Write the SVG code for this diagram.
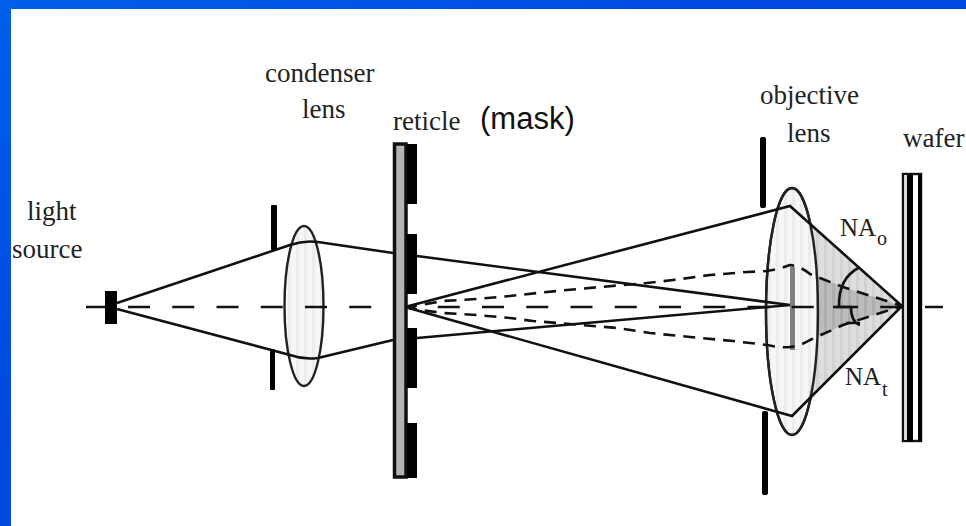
<svg xmlns="http://www.w3.org/2000/svg" width="966" height="526" viewBox="0 0 966 526">
<defs>
<style>
.t{font-family:"Liberation Serif","Times New Roman",serif;font-size:27px;fill:#222}
.n{font-family:"Liberation Serif","Times New Roman",serif;font-size:25px;fill:#222}
.s{font-family:"Liberation Serif","Times New Roman",serif;font-size:20px;fill:#222}
.m{font-family:"Liberation Sans",Arial,sans-serif;font-size:31px;fill:#111}
.ray{fill:none;stroke:#111;stroke-width:2.6}
.dash{fill:none;stroke:#111;stroke-width:2.6;stroke-dasharray:12 8}
.axis{fill:none;stroke:#111;stroke-width:2.4;stroke-dasharray:22 22.25}
.lens{fill:url(#lensfill);stroke:#222;stroke-width:2.4}
</style>
<linearGradient id="bg" x1="0" y1="0" x2="1" y2="1"><stop offset="0" stop-color="#0060ea"/><stop offset="0.4" stop-color="#0048e0"/><stop offset="1" stop-color="#0050e4"/></linearGradient>
<pattern id="lensfill" width="8" height="8" patternUnits="userSpaceOnUse"><rect width="8" height="8" fill="#f6f6f6"/><rect width="3" height="8" fill="#ececec"/></pattern>
<pattern id="conefill" width="8" height="8" patternUnits="userSpaceOnUse"><rect width="8" height="8" fill="#dedede"/><rect width="3" height="8" fill="#d2d2d2"/></pattern>
<pattern id="innerfill" width="8" height="8" patternUnits="userSpaceOnUse"><rect width="8" height="8" fill="#bcbcbc"/><rect width="3" height="8" fill="#aeaeae"/></pattern>
</defs>
<rect id="background" width="966" height="526" fill="url(#bg)"/>
<rect id="page" x="11" y="9" width="955" height="517" fill="#fff"/>
<g id="condenser-lens"><ellipse class="lens" cx="304" cy="306" rx="19.500" ry="80"/></g>
<g id="objective-lens"><ellipse class="lens" cx="792" cy="311.500" rx="26" ry="123.500"/></g>
<g id="cone-shading">
<path d="M808 221 L902 306 L808 400 Q826 310 808 221Z" fill="url(#conefill)"/>
<path d="M816 276 L843 287 L902 306 L843 325 L816 337 Q820 305 816 276Z" fill="url(#innerfill)"/>
<ellipse cx="792" cy="311.500" rx="26" ry="123.500" fill="none" stroke="#222" stroke-width="2.400"/>
<rect x="790" y="267" width="5" height="83" fill="#808080"/>
</g>
<g id="connectors">
<path class="axis" d="M128 307H902"/>
<path class="ray" d="M925 307H943M86 307H105" stroke-width="2.200"/>
<path class="ray" d="M117 303L290 245Q304 240 318 242L393 253M417 256L790 305M117 309L290 355Q304 360 318 358L393 340M417 338L790 305M405 307L790 206L902 306L792 416L405 307"/>
<path class="dash" d="M405 307L420 305L443 301L477 299L510 296L537 293L567 290L600 287L647 283L673 280L710 275L747 272L767 271Q780 269 790 265Q800 266 810 274L843 287L902 306"/>
<path class="dash" d="M405 307L420 310L443 313L477 315L510 318L533 321L570 324L617 328L650 333L700 338L733 341L767 345Q780 348 790 347Q800 346 810 340L843 325L902 306"/>
<path class="ray" stroke-width="2" d="M860 267Q838 278 839 307M851 307Q851 322 860 325M833 307H852M846 323H860"/>
</g>
<g id="light-source"><rect x="105" y="291" width="12" height="33" fill="#000"/><text class="t" x="27" y="220">light</text><text class="t" x="12" y="258">source</text></g>
<g id="apertures" fill="#000">
<rect x="271" y="205" width="6" height="45" rx="1"/>
<rect x="270" y="349" width="5" height="41" rx="1"/>
<rect x="760" y="137" width="6" height="71" rx="2"/>
<rect x="762" y="411" width="6" height="84" rx="2"/>
</g>
<g id="reticle">
<rect x="394.500" y="144" width="11.500" height="333" fill="#b4b4b4" stroke="#111" stroke-width="3.500"/>
<path d="M407 144H417V204H407ZM407 234H417V294H407ZM407 328H417V388H407ZM407 423H417V478H407Z" fill="#000"/>
<text class="t" x="393" y="130">reticle</text><text class="m" x="480" y="129">(mask)</text>
</g>
<g id="wafer">
<rect x="903" y="174" width="18" height="267" fill="#fff" stroke="#111" stroke-width="2.400"/>
<rect x="904.500" y="175" width="2.500" height="265" fill="#ddd"/>
<rect x="907" y="174" width="6" height="267" fill="#000"/>
<rect x="918" y="174" width="4" height="267" fill="#000"/>
<text class="t" x="903" y="147">wafer</text>
</g>
<g id="labels">
<text class="t" x="265" y="82">condenser</text>
<text class="t" x="302" y="118">lens</text>
<text class="t" x="760" y="104">objective</text>
<text class="t" x="787" y="142">lens</text>
<text class="n" x="840" y="236">NA</text><text class="s" x="877" y="245">o</text>
<text class="n" x="845" y="385">NA</text><text class="s" x="882" y="396">t</text>
</g>
</svg>
